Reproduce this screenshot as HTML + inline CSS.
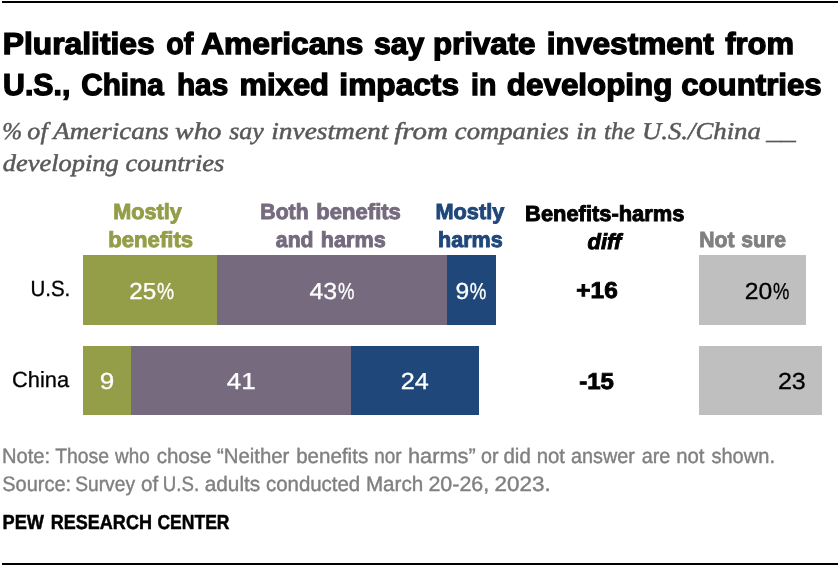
<!DOCTYPE html>
<html lang="en">
<head>
<meta charset="utf-8">
<title>Pluralities of Americans say private investment from U.S., China has mixed impacts in developing countries</title>
<style>
html,body{margin:0;padding:0;background:#fff;}
body{width:840px;height:568px;overflow:hidden;}
svg{display:block;}
</style>
</head>
<body>
<svg width="840" height="568" viewBox="0 0 840 568">
<rect x="0" y="0" width="840" height="568" fill="#ffffff"/>
<rect x="83" y="255" width="134" height="70" fill="#949d48"/>
<rect x="217" y="255" width="230" height="70" fill="#756a7e"/>
<rect x="447" y="255" width="49" height="70" fill="#1f4779"/>
<rect x="699" y="255" width="107" height="70" fill="#bfbfbf"/>
<rect x="83" y="346" width="48" height="69" fill="#949d48"/>
<rect x="131" y="346" width="220" height="69" fill="#756a7e"/>
<rect x="351" y="346" width="128" height="69" fill="#1f4779"/>
<rect x="699" y="346" width="123" height="69" fill="#bfbfbf"/>
<rect x="2" y="1" width="836" height="2" fill="#000"/>
<rect x="2" y="563" width="836" height="2" fill="#000"/>
<text y="54" font-family='"Liberation Sans", sans-serif' font-size="30.4" fill="#000" stroke="#000" stroke-width="1.3" stroke-linejoin="miter" stroke-miterlimit="3" text-rendering="geometricPrecision" font-weight="bold"><tspan x="2.83" textLength="151.81" lengthAdjust="spacingAndGlyphs">Pluralities</tspan> <tspan x="166.23" textLength="27.10" lengthAdjust="spacingAndGlyphs">of</tspan> <tspan x="201.20" textLength="162.10" lengthAdjust="spacingAndGlyphs">Americans</tspan> <tspan x="373.95" textLength="50.37" lengthAdjust="spacingAndGlyphs">say</tspan> <tspan x="432.91" textLength="102.62" lengthAdjust="spacingAndGlyphs">private</tspan> <tspan x="546.84" textLength="166.95" lengthAdjust="spacingAndGlyphs">investment</tspan> <tspan x="725.15" textLength="68.77" lengthAdjust="spacingAndGlyphs">from</tspan></text>
<text y="95" font-family='"Liberation Sans", sans-serif' font-size="30.4" fill="#000" stroke="#000" stroke-width="1.3" stroke-linejoin="miter" stroke-miterlimit="3" text-rendering="geometricPrecision" font-weight="bold"><tspan x="3.05" textLength="67.35" lengthAdjust="spacingAndGlyphs">U.S.,</tspan> <tspan x="81.21" textLength="82.58" lengthAdjust="spacingAndGlyphs">China</tspan> <tspan x="176.93" textLength="51.28" lengthAdjust="spacingAndGlyphs">has</tspan> <tspan x="239.63" textLength="89.34" lengthAdjust="spacingAndGlyphs">mixed</tspan> <tspan x="339.34" textLength="119.70" lengthAdjust="spacingAndGlyphs">impacts</tspan> <tspan x="471.00" textLength="25.29" lengthAdjust="spacingAndGlyphs">in</tspan> <tspan x="506.88" textLength="165.48" lengthAdjust="spacingAndGlyphs">developing</tspan> <tspan x="681.19" textLength="140.48" lengthAdjust="spacingAndGlyphs">countries</tspan></text>
<text y="139" font-family='"Liberation Serif", serif' font-size="24.12" fill="#595959" stroke="#595959" stroke-width="0.5" stroke-linejoin="miter" stroke-miterlimit="3" text-rendering="geometricPrecision" font-style="italic"><tspan x="2.17" textLength="19.81" lengthAdjust="spacingAndGlyphs">%</tspan> <tspan x="27.36" textLength="20.31" lengthAdjust="spacingAndGlyphs">of</tspan> <tspan x="53.38" textLength="115.44" lengthAdjust="spacingAndGlyphs">Americans</tspan> <tspan x="175.11" textLength="46.31" lengthAdjust="spacingAndGlyphs">who</tspan> <tspan x="229.20" textLength="34.51" lengthAdjust="spacingAndGlyphs">say</tspan> <tspan x="271.26" textLength="117.11" lengthAdjust="spacingAndGlyphs">investment</tspan> <tspan x="394.20" textLength="53.69" lengthAdjust="spacingAndGlyphs">from</tspan> <tspan x="454.85" textLength="113.97" lengthAdjust="spacingAndGlyphs">companies</tspan> <tspan x="576.31" textLength="20.42" lengthAdjust="spacingAndGlyphs">in</tspan> <tspan x="604.12" textLength="30.71" lengthAdjust="spacingAndGlyphs">the</tspan> <tspan x="641.98" textLength="118.86" lengthAdjust="spacingAndGlyphs">U.S./China</tspan> <tspan x="766.21" textLength="29.41" lengthAdjust="spacingAndGlyphs">__</tspan></text>
<text y="171" font-family='"Liberation Serif", serif' font-size="24.12" fill="#595959" stroke="#595959" stroke-width="0.5" stroke-linejoin="miter" stroke-miterlimit="3" text-rendering="geometricPrecision" font-style="italic"><tspan x="2.85" textLength="115.93" lengthAdjust="spacingAndGlyphs">developing</tspan> <tspan x="125.55" textLength="98.88" lengthAdjust="spacingAndGlyphs">countries</tspan></text>
<text y="219" font-family='"Liberation Sans", sans-serif' font-size="21.82" fill="#949d48" stroke="#949d48" stroke-width="0.9" stroke-linejoin="miter" stroke-miterlimit="3" text-rendering="geometricPrecision" font-weight="bold"><tspan x="113.31" textLength="68.49" lengthAdjust="spacingAndGlyphs">Mostly</tspan></text>
<text y="247" font-family='"Liberation Sans", sans-serif' font-size="21.82" fill="#949d48" stroke="#949d48" stroke-width="0.9" stroke-linejoin="miter" stroke-miterlimit="3" text-rendering="geometricPrecision" font-weight="bold"><tspan x="108.29" textLength="84.81" lengthAdjust="spacingAndGlyphs">benefits</tspan></text>
<text y="219" font-family='"Liberation Sans", sans-serif' font-size="21.82" fill="#756a7e" stroke="#756a7e" stroke-width="0.9" stroke-linejoin="miter" stroke-miterlimit="3" text-rendering="geometricPrecision" font-weight="bold"><tspan x="260.33" textLength="48.27" lengthAdjust="spacingAndGlyphs">Both</tspan> <tspan x="316.39" textLength="84.50" lengthAdjust="spacingAndGlyphs">benefits</tspan></text>
<text y="247" font-family='"Liberation Sans", sans-serif' font-size="21.82" fill="#756a7e" stroke="#756a7e" stroke-width="0.9" stroke-linejoin="miter" stroke-miterlimit="3" text-rendering="geometricPrecision" font-weight="bold"><tspan x="275.86" textLength="37.64" lengthAdjust="spacingAndGlyphs">and</tspan> <tspan x="320.81" textLength="64.87" lengthAdjust="spacingAndGlyphs">harms</tspan></text>
<text y="219" font-family='"Liberation Sans", sans-serif' font-size="21.82" fill="#1f4779" stroke="#1f4779" stroke-width="0.9" stroke-linejoin="miter" stroke-miterlimit="3" text-rendering="geometricPrecision" font-weight="bold"><tspan x="435.40" textLength="68.89" lengthAdjust="spacingAndGlyphs">Mostly</tspan></text>
<text y="247" font-family='"Liberation Sans", sans-serif' font-size="21.82" fill="#1f4779" stroke="#1f4779" stroke-width="0.9" stroke-linejoin="miter" stroke-miterlimit="3" text-rendering="geometricPrecision" font-weight="bold"><tspan x="438.01" textLength="64.67" lengthAdjust="spacingAndGlyphs">harms</tspan></text>
<text y="221" font-family='"Liberation Sans", sans-serif' font-size="21.82" fill="#000" stroke="#000" stroke-width="0.9" stroke-linejoin="miter" stroke-miterlimit="3" text-rendering="geometricPrecision" font-weight="bold"><tspan x="525.10" textLength="159.35" lengthAdjust="spacingAndGlyphs">Benefits-harms</tspan></text>
<text y="249" font-family='"Liberation Sans", sans-serif' font-size="21.82" fill="#000" stroke="#000" stroke-width="0.9" stroke-linejoin="miter" stroke-miterlimit="3" text-rendering="geometricPrecision" font-weight="bold" font-style="italic"><tspan x="587.55" textLength="33.72" lengthAdjust="spacingAndGlyphs">diff</tspan></text>
<text y="247" font-family='"Liberation Sans", sans-serif' font-size="21.82" fill="#808080" stroke="#808080" stroke-width="0.9" stroke-linejoin="miter" stroke-miterlimit="3" text-rendering="geometricPrecision" font-weight="bold"><tspan x="699.13" textLength="35.32" lengthAdjust="spacingAndGlyphs">Not</tspan> <tspan x="741.26" textLength="44.66" lengthAdjust="spacingAndGlyphs">sure</tspan></text>
<text y="296" font-family='"Liberation Sans", sans-serif' font-size="21.96" fill="#000" stroke="#000" stroke-width="0.3" stroke-linejoin="miter" stroke-miterlimit="3" text-rendering="geometricPrecision"><tspan x="30.50" textLength="39.82" lengthAdjust="spacingAndGlyphs">U.S.</tspan></text>
<text y="387" font-family='"Liberation Sans", sans-serif' font-size="21.96" fill="#000" stroke="#000" stroke-width="0.3" stroke-linejoin="miter" stroke-miterlimit="3" text-rendering="geometricPrecision"><tspan x="12.01" textLength="57.05" lengthAdjust="spacingAndGlyphs">China</tspan></text>
<text y="299" font-family='"Liberation Sans", sans-serif' font-size="23.18" fill="#fff" stroke="#fff" stroke-width="0.3" stroke-linejoin="miter" stroke-miterlimit="3" text-rendering="geometricPrecision"><tspan x="129.25" textLength="27.07" lengthAdjust="spacingAndGlyphs">25</tspan><tspan x="156.88" textLength="17.13" lengthAdjust="spacingAndGlyphs">%</tspan></text>
<text y="299" font-family='"Liberation Sans", sans-serif' font-size="23.18" fill="#fff" stroke="#fff" stroke-width="0.3" stroke-linejoin="miter" stroke-miterlimit="3" text-rendering="geometricPrecision"><tspan x="309.46" textLength="27.78" lengthAdjust="spacingAndGlyphs">43</tspan><tspan x="338.00" textLength="16.49" lengthAdjust="spacingAndGlyphs">%</tspan></text>
<text y="299" font-family='"Liberation Sans", sans-serif' font-size="23.18" fill="#fff" stroke="#fff" stroke-width="0.3" stroke-linejoin="miter" stroke-miterlimit="3" text-rendering="geometricPrecision"><tspan x="455.44" textLength="13.71" lengthAdjust="spacingAndGlyphs">9</tspan><tspan x="469.80" textLength="16.59" lengthAdjust="spacingAndGlyphs">%</tspan></text>
<text y="299" font-family='"Liberation Sans", sans-serif' font-size="23.18" fill="#000" stroke="#000" stroke-width="0.3" stroke-linejoin="miter" stroke-miterlimit="3" text-rendering="geometricPrecision"><tspan x="744.73" textLength="27.50" lengthAdjust="spacingAndGlyphs">20</tspan><tspan x="773.00" textLength="16.38" lengthAdjust="spacingAndGlyphs">%</tspan></text>
<text y="389" font-family='"Liberation Sans", sans-serif' font-size="23.18" fill="#fff" stroke="#fff" stroke-width="0.3" stroke-linejoin="miter" stroke-miterlimit="3" text-rendering="geometricPrecision"><tspan x="99.67" textLength="14.53" lengthAdjust="spacingAndGlyphs">9</tspan></text>
<text y="389" font-family='"Liberation Sans", sans-serif' font-size="23.18" fill="#fff" stroke="#fff" stroke-width="0.3" stroke-linejoin="miter" stroke-miterlimit="3" text-rendering="geometricPrecision"><tspan x="226.74" textLength="29.02" lengthAdjust="spacingAndGlyphs">41</tspan></text>
<text y="389" font-family='"Liberation Sans", sans-serif' font-size="23.18" fill="#fff" stroke="#fff" stroke-width="0.3" stroke-linejoin="miter" stroke-miterlimit="3" text-rendering="geometricPrecision"><tspan x="400.71" textLength="28.07" lengthAdjust="spacingAndGlyphs">24</tspan></text>
<text y="389" font-family='"Liberation Sans", sans-serif' font-size="23.18" fill="#000" stroke="#000" stroke-width="0.3" stroke-linejoin="miter" stroke-miterlimit="3" text-rendering="geometricPrecision"><tspan x="777.92" textLength="27.93" lengthAdjust="spacingAndGlyphs">23</tspan></text>
<text y="298" font-family='"Liberation Sans", sans-serif' font-size="23.04" fill="#000" stroke="#000" stroke-width="0.9" stroke-linejoin="miter" stroke-miterlimit="3" text-rendering="geometricPrecision" font-weight="bold"><tspan x="576.37" textLength="41.38" lengthAdjust="spacingAndGlyphs">+16</tspan></text>
<text y="389" font-family='"Liberation Sans", sans-serif' font-size="23.04" fill="#000" stroke="#000" stroke-width="0.9" stroke-linejoin="miter" stroke-miterlimit="3" text-rendering="geometricPrecision" font-weight="bold"><tspan x="579.28" textLength="34.63" lengthAdjust="spacingAndGlyphs">-15</tspan></text>
<text y="463" font-family='"Liberation Sans", sans-serif' font-size="20.95" fill="#808080" stroke="#808080" stroke-width="0.4" stroke-linejoin="miter" stroke-miterlimit="3" text-rendering="geometricPrecision"><tspan x="1.96" textLength="48.17" lengthAdjust="spacingAndGlyphs">Note:</tspan> <tspan x="55.17" textLength="53.88" lengthAdjust="spacingAndGlyphs">Those</tspan> <tspan x="115.12" textLength="34.58" lengthAdjust="spacingAndGlyphs">who</tspan> <tspan x="156.66" textLength="54.85" lengthAdjust="spacingAndGlyphs">chose</tspan> <tspan x="216.91" textLength="72.40" lengthAdjust="spacingAndGlyphs">“Neither</tspan> <tspan x="296.17" textLength="72.01" lengthAdjust="spacingAndGlyphs">benefits</tspan> <tspan x="374.27" textLength="27.34" lengthAdjust="spacingAndGlyphs">nor</tspan> <tspan x="407.90" textLength="67.89" lengthAdjust="spacingAndGlyphs">harms”</tspan> <tspan x="480.99" textLength="17.52" lengthAdjust="spacingAndGlyphs">or</tspan> <tspan x="503.47" textLength="27.31" lengthAdjust="spacingAndGlyphs">did</tspan> <tspan x="536.69" textLength="28.28" lengthAdjust="spacingAndGlyphs">not</tspan> <tspan x="570.99" textLength="63.85" lengthAdjust="spacingAndGlyphs">answer</tspan> <tspan x="641.69" textLength="28.63" lengthAdjust="spacingAndGlyphs">are</tspan> <tspan x="676.19" textLength="28.28" lengthAdjust="spacingAndGlyphs">not</tspan> <tspan x="711.46" textLength="63.50" lengthAdjust="spacingAndGlyphs">shown.</tspan></text>
<text y="491" font-family='"Liberation Sans", sans-serif' font-size="20.95" fill="#808080" stroke="#808080" stroke-width="0.4" stroke-linejoin="miter" stroke-miterlimit="3" text-rendering="geometricPrecision"><tspan x="2.28" textLength="68.91" lengthAdjust="spacingAndGlyphs">Source:</tspan> <tspan x="75.21" textLength="59.82" lengthAdjust="spacingAndGlyphs">Survey</tspan> <tspan x="140.96" textLength="17.16" lengthAdjust="spacingAndGlyphs">of</tspan> <tspan x="162.86" textLength="36.28" lengthAdjust="spacingAndGlyphs">U.S.</tspan> <tspan x="204.65" textLength="55.57" lengthAdjust="spacingAndGlyphs">adults</tspan> <tspan x="265.97" textLength="94.23" lengthAdjust="spacingAndGlyphs">conducted</tspan> <tspan x="365.92" textLength="57.33" lengthAdjust="spacingAndGlyphs">March</tspan> <tspan x="428.43" textLength="60.83" lengthAdjust="spacingAndGlyphs">20-26,</tspan> <tspan x="494.60" textLength="56.18" lengthAdjust="spacingAndGlyphs">2023.</tspan></text>
<text y="529" font-family='"Liberation Sans", sans-serif' font-size="20.22" fill="#000" stroke="#000" stroke-width="0.5" stroke-linejoin="miter" stroke-miterlimit="3" text-rendering="geometricPrecision" font-weight="bold"><tspan x="2.50" textLength="41.50" lengthAdjust="spacingAndGlyphs">PEW</tspan> <tspan x="50.81" textLength="101.11" lengthAdjust="spacingAndGlyphs">RESEARCH</tspan> <tspan x="157.47" textLength="71.99" lengthAdjust="spacingAndGlyphs">CENTER</tspan></text>
</svg>
</body>
</html>
